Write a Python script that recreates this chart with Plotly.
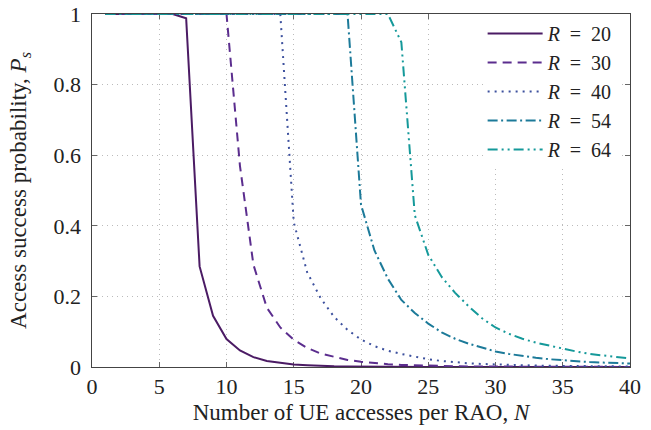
import plotly.graph_objects as go

# Number of UE accesses per RAO
N = list(range(1, 41))

# Access success probability for each number of preambles R
ps_r20 = [1.0, 1.0, 1.0, 1.0, 1.0, 1.0, 0.988, 0.285, 0.145, 0.079,
          0.047, 0.028, 0.017, 0.011, 0.007, 0.005, 0.003, 0.002, 0.0015, 0.001,
          0.0008, 0.0006, 0.0005, 0.0004, 0.0003, 0.0003, 0.0002, 0.0002, 0.0002, 0.0001,
          0.0001, 0.0001, 0.0001, 0.0001, 0.0001, 0.0001, 0.0001, 0.0001, 0.0001, 0.0001]
ps_r30 = [1.0, 1.0, 1.0, 1.0, 1.0, 1.0, 1.0, 1.0, 1.0, 1.0,
          0.57, 0.29, 0.168, 0.112, 0.077, 0.054, 0.038, 0.028, 0.02, 0.015,
          0.011, 0.008, 0.006, 0.0045, 0.0035, 0.0027, 0.002, 0.0016, 0.0012, 0.001,
          0.0009, 0.0008, 0.0007, 0.0006, 0.0005, 0.0004, 0.0004, 0.0003, 0.0003, 0.0003]
ps_r40 = [1.0, 1.0, 1.0, 1.0, 1.0, 1.0, 1.0, 1.0, 1.0, 1.0,
          1.0, 1.0, 1.0, 1.0, 0.41, 0.268, 0.195, 0.142, 0.105, 0.078,
          0.059, 0.046, 0.037, 0.029, 0.022, 0.017, 0.013, 0.0105, 0.0085, 0.007,
          0.0058, 0.0048, 0.004, 0.0034, 0.0029, 0.0025, 0.0021, 0.0018, 0.0016, 0.0014]
ps_r54 = [1.0, 1.0, 1.0, 1.0, 1.0, 1.0, 1.0, 1.0, 1.0, 1.0,
          1.0, 1.0, 1.0, 1.0, 1.0, 1.0, 1.0, 1.0, 1.0, 0.46,
          0.33, 0.25, 0.19, 0.153, 0.123, 0.098, 0.08, 0.066, 0.054, 0.044,
          0.037, 0.031, 0.026, 0.022, 0.019, 0.016, 0.014, 0.0125, 0.011, 0.01]
ps_r64 = [1.0, 1.0, 1.0, 1.0, 1.0, 1.0, 1.0, 1.0, 1.0, 1.0,
          1.0, 1.0, 1.0, 1.0, 1.0, 1.0, 1.0, 1.0, 1.0, 1.0,
          1.0, 1.0, 0.92, 0.43, 0.318, 0.255, 0.21, 0.172, 0.138, 0.112,
          0.094, 0.08, 0.069, 0.06, 0.051, 0.044, 0.037, 0.032, 0.027, 0.024]

x_ticks = [0, 5, 10, 15, 20, 25, 30, 35, 40]
y_ticks = [0, 0.2, 0.4, 0.6, 0.8, 1]
y_tick_text = ["0", "0.2", "0.4", "0.6", "0.8", "1"]

series = [
    ("20", ps_r20, "#4b1b64", "solid"),
    ("30", ps_r30, "#5b2d8e", "9px,6px"),
    ("40", ps_r40, "#3d519e", "2px,5px"),
    ("54", ps_r54, "#1c7a99", "10px,3.5px,2px,3.5px"),
    ("64", ps_r64, "#15999a", "10px,4px,2px,4px,2px,4px"),
]

FONT = "Liberation Serif, Times New Roman, serif"
fig = go.Figure()
for r, ps, color, dash in series:
    fig.add_trace(go.Scatter(
        x=N, y=ps, mode="lines",
        name=f"<i>R</i>\u2002=\u2002{r}",
        legendgroup=r,
        line=dict(color=color, width=2, dash=dash),
    ))

axis_common = dict(
    showline=True, linecolor="#444", linewidth=1, mirror="ticks",
    ticks="inside", ticklen=5, tickcolor="#666",
    showgrid=True, gridcolor="#bbbbbb", gridwidth=1, griddash="1px,4px",
    zeroline=False, layer="below traces", automargin=False,
    tickfont=dict(family=FONT, size=22, color="#222"),
)

fig.update_layout(
    width=651, height=430,
    margin=dict(l=92, r=21, t=14, b=63, autoexpand=False),
    paper_bgcolor="white", plot_bgcolor="white",
    font=dict(family=FONT, color="#222"),
    xaxis=dict(range=[0, 40], tickvals=x_ticks,
               title=dict(text="Number of UE accesses per RAO, <i>N</i>",
                          font=dict(family=FONT, size=23), standoff=5),
               **axis_common),
    yaxis=dict(range=[0, 1], tickvals=y_ticks,
               ticktext=[t + "\u2005" for t in y_tick_text],
               title=dict(text="Access success probability, <i>P<sub>s</sub></i>",
                          font=dict(family=FONT, size=23), standoff=20),
               **axis_common),
    legend=dict(x=0.977, y=1.0, xanchor="right", yanchor="top",
                bgcolor="white", borderwidth=0,
                font=dict(family=FONT, size=20, color="#222"),
                itemwidth=55, tracegroupgap=0),
    showlegend=True,
)

fig.write_html("out.html")
